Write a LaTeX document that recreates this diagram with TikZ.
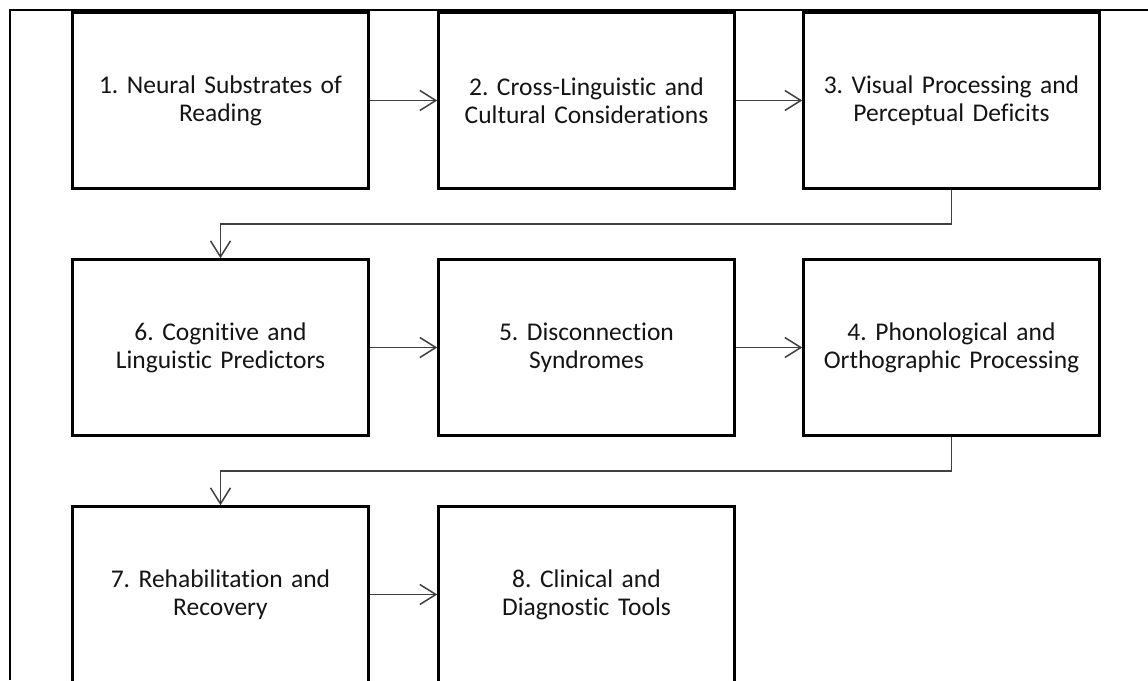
\documentclass[tikz,border=0pt]{standalone}
\usepackage{fontspec}
\setmainfont{Carlito}[Ligatures={NoCommon}]
\usepackage{tikz}
\usetikzlibrary{arrows.meta}
\definecolor{linkgray}{HTML}{404040}
\definecolor{textgray}{HTML}{141414}
\frenchspacing

\begin{document}
\begin{tikzpicture}[x=1pt, y=1pt,
    stage/.style={draw=black, line width=2.5pt, rectangle, minimum width=296pt, minimum height=176pt,
                  text width=285pt, align=center, text=textgray, font=\fontsize{25.5}{28}\selectfont},
    link/.style={draw=linkgray, line width=1.5pt, -{Straight Barb[length=16pt, width=20pt, line width=1.5pt]}}]
            \useasboundingbox (0,0) rectangle (1148,680);
            % frame lines on the left and top
            \coordinate (frameBL) at (10, 0);
            \coordinate (frameTL) at (10, 670);
            \coordinate (frameTR) at (1148, 670);
            \draw [line width=1.2pt] (frameBL) -- (frameTL) -- (frameTR);

            \node[stage] at (220.5, 579.5) (s1) {1. Neural Substrates of\\Reading};
            \node[stage] at (586.5, 579.5) (s2) {2. Cross-Linguistic and\\Cultural Considerations};
            \node[stage] at (951.5, 579.5) (s3) {3. Visual Processing and\\Perceptual Deficits};
            \node[stage] at (220.5, 332.5) (s6) {6. Cognitive and\\Linguistic Predictors};
            \node[stage] at (586.5, 332.5) (s5) {5. Disconnection\\Syndromes};
            \node[stage] at (951.5, 332.5) (s4) {4. Phonological and\\Orthographic Processing};
            \node[stage] at (220.5, 85.5)  (s7) {7. Rehabilitation and\\Recovery};
            \node[stage] at (586.5, 85.5)  (s8) {8. Clinical and\\Diagnostic Tools};

            \draw [link] (s1) -- (s2);
            \draw [link] (s2) -- (s3);
            \draw [link] (s3.south) -- ++(0,-34.5) -| (s6.north);
            \draw [link] (s6) -- (s5);
            \draw [link] (s5) -- (s4);
            \draw [link] (s4.south) -- ++(0,-34.5) -| (s7.north);
            \draw [link] (s7) -- (s8);
        \end{tikzpicture}
\end{document}
